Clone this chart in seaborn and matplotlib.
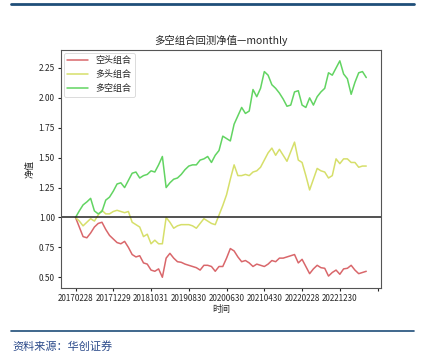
import numpy as np
import pandas as pd
import matplotlib
matplotlib.use('Agg')
import matplotlib.pyplot as plt
import seaborn as sns

# monthly net values, 2017-02 .. 2023-07 (78 months)
short_nav = [1.00, 0.92, 0.84, 0.83, 0.87, 0.92, 0.95, 0.96, 0.90, 0.85,
             0.82, 0.79, 0.78, 0.80, 0.75, 0.69, 0.67, 0.68, 0.62, 0.61,
             0.56, 0.55, 0.57, 0.50, 0.66, 0.70, 0.66, 0.63, 0.625, 0.61,
             0.60, 0.59, 0.58, 0.56, 0.60, 0.60, 0.59, 0.55, 0.59, 0.59,
             0.66, 0.74, 0.72, 0.67, 0.63, 0.64, 0.62, 0.59, 0.61, 0.60,
             0.59, 0.61, 0.64, 0.63, 0.66, 0.66, 0.67, 0.68, 0.69, 0.62,
             0.65, 0.59, 0.53, 0.57, 0.60, 0.58, 0.575, 0.51, 0.54, 0.56,
             0.525, 0.57, 0.575, 0.60, 0.56, 0.53, 0.54, 0.55]
long_nav = [1.00, 0.97, 0.93, 0.96, 0.99, 0.97, 1.02, 1.06, 1.03, 1.03,
            1.05, 1.06, 1.05, 1.04, 1.05, 0.96, 0.94, 0.92, 0.84, 0.86,
            0.78, 0.81, 0.78, 0.78, 1.00, 0.96, 0.91, 0.93, 0.94, 0.94,
            0.94, 0.93, 0.91, 0.95, 0.99, 0.97, 0.95, 0.94, 1.02, 1.10,
            1.19, 1.32, 1.44, 1.35, 1.35, 1.36, 1.35, 1.38, 1.39, 1.42,
            1.48, 1.54, 1.58, 1.52, 1.57, 1.52, 1.47, 1.55, 1.63, 1.48,
            1.46, 1.35, 1.23, 1.32, 1.41, 1.39, 1.38, 1.33, 1.35, 1.49,
            1.45, 1.49, 1.49, 1.46, 1.46, 1.42, 1.43, 1.43]
ls_nav = [1.00, 1.055, 1.105, 1.13, 1.16, 1.055, 1.03, 1.05, 1.145, 1.17,
          1.22, 1.28, 1.29, 1.25, 1.31, 1.37, 1.38, 1.33, 1.35, 1.36,
          1.39, 1.38, 1.44, 1.51, 1.25, 1.29, 1.32, 1.33, 1.36, 1.40,
          1.43, 1.44, 1.44, 1.48, 1.49, 1.51, 1.46, 1.52, 1.56, 1.68,
          1.66, 1.64, 1.78, 1.85, 1.92, 1.87, 1.89, 2.07, 2.01, 2.08,
          2.22, 2.19, 2.11, 2.08, 2.04, 1.99, 1.93, 1.94, 2.05, 2.06,
          1.94, 1.92, 2.00, 1.94, 2.01, 2.05, 2.08, 2.21, 2.19, 2.25,
          2.31, 2.20, 2.16, 2.03, 2.13, 2.21, 2.22, 2.17]
tick_labels = ['20170228', '20171229', '20181031', '20190830', '20200630',
               '20210430', '20220228', '20221230', '']
series_names = ['空头组合', '多头组合', '多空组合']
colors = ['#d9676b', '#d6df6a', '#62d462']

sns.set_style('ticks')
plt.rcParams['font.family'] = ['Noto Sans CJK SC', 'DejaVu Sans']
plt.rcParams['axes.unicode_minus'] = False

df = pd.DataFrame({'month': np.arange(len(ls_nav)),
                   series_names[0]: short_nav,
                   series_names[1]: long_nav,
                   series_names[2]: ls_nav})
long_df = df.melt(id_vars='month', var_name='组合', value_name='净值')

fig = plt.figure(figsize=(4.25, 3.61), dpi=100)
ax = fig.add_axes([0.1435, 0.202, 0.7525, 0.6595])

sns.lineplot(data=long_df, x='month', y='净值', hue='组合',
             palette=colors, linewidth=1.1, ax=ax)
ax.axhline(1.0, color='#222222', linewidth=1.1)

ax.set_xticks(np.arange(0, 81, 10))
ax.set_xticklabels(tick_labels)
ax.set_yticks([0.5, 0.75, 1.0, 1.25, 1.5, 1.75, 2.0, 2.25])
ax.tick_params(axis='x', labelsize=5.8, length=2.5, pad=2)
ax.tick_params(axis='y', labelsize=6, length=2.5, pad=2)
ax.set_xlabel('时间', fontsize=6.5, labelpad=1)
ax.set_ylabel('净值', fontsize=6.5, labelpad=3)
ax.set_title('多空组合回测净值—monthly', fontsize=7.5, pad=4)
for s in ax.spines.values():
    s.set_color('#555555')
    s.set_linewidth(0.8)

leg = ax.legend(loc='upper left', fontsize=6.5, frameon=True,
                handlelength=2.3, borderaxespad=0.3, labelspacing=0.55)
leg.get_frame().set_edgecolor('#cccccc')
leg.get_frame().set_linewidth(0.6)

# page decoration: header / footer lines and source note
fig.add_artist(plt.Line2D([0.025, 0.975], [0.99, 0.99], color='#1f4e79', linewidth=2.0))
fig.add_artist(plt.Line2D([0.025, 0.975], [0.083, 0.083], color='#1f4e79', linewidth=1.2))
fig.text(0.03, 0.04, '资料来源：华创证券', fontsize=8, color='#2b4a8a',
         style='italic', va='center')

fig.savefig('out.png', dpi=100)
